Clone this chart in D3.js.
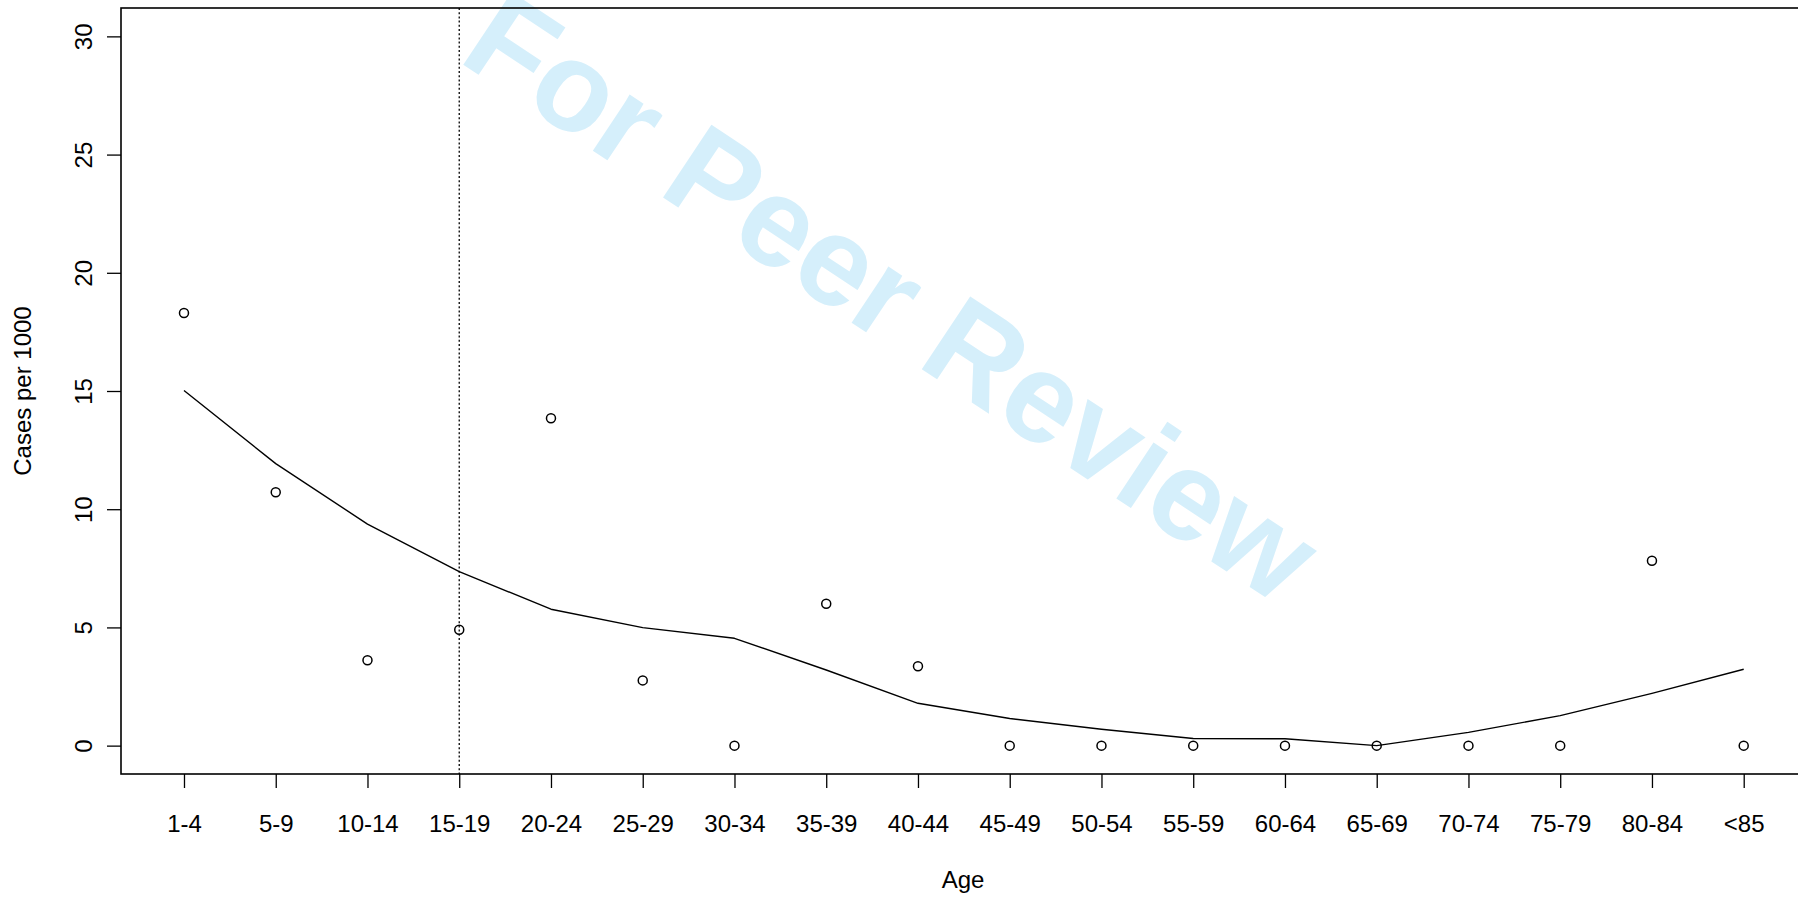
<!DOCTYPE html>
<html>
<head>
<meta charset="utf-8">
<script src="https://cdn.jsdelivr.net/npm/d3@7"></script>
<style>
  html, body { margin: 0; padding: 0; background: #fff; }
  svg { display: block; }
  text { font-family: "Liberation Sans", Arial, Helvetica, sans-serif; }
</style>
</head>
<body>
<svg id="chart" width="1798" height="898"></svg>
<script>
// ---- data ----
const ageGroups = ["1-4","5-9","10-14","15-19","20-24","25-29","30-34","35-39","40-44",
                   "45-49","50-54","55-59","60-64","65-69","70-74","75-79","80-84","<85"];
const observedRates = [18.3, 10.72, 3.61, 4.9, 13.85, 2.76, 0, 6.0, 3.36,
                       0, 0, 0, 0, 0, 0, 0, 7.82, 0];
const fittedRates = [15.02, 11.93, 9.37, 7.36, 5.77, 4.99, 4.54, 3.2, 1.79,
                     1.15, 0.69, 0.3, 0.29, 0, 0.56, 1.27, 2.21, 3.23];
const yTicks = [0, 5, 10, 15, 20, 25, 30];
const cutoffGroup = "15-19";
const yLabel = "Cases per 1000";
const xLabel = "Age";
const watermark = "For Peer Review";

// ---- layout ----
const svg = d3.select("#chart");
const plot = { left: 121.6, right: 1806.1, top: 8, bottom: 774 };

const n = ageGroups.length;
const pad = (n - 1) * 0.04;
const x = d3.scaleLinear().domain([1 - pad, n + pad]).range([plot.left, plot.right]);
const y = d3.scaleLinear().domain([-1.2, 31.2]).range([plot.bottom, plot.top]);
const xi = g => ageGroups.indexOf(g) + 1;

// watermark (behind)
svg.append("text")
  .attr("transform", "translate(456.3,59.9) rotate(33.6)")
  .attr("font-size", 127)
  .attr("font-weight", "bold")
  .attr("fill", "#d5effb")
  .text(watermark);

// x axis
const xAxis = d3.axisBottom(x)
  .tickValues(ageGroups.map((g, i) => i + 1))
  .tickFormat((d) => ageGroups[d - 1])
  .tickSize(14).tickPadding(0).tickSizeOuter(0);
const gx = svg.append("g").attr("transform", `translate(0,${plot.bottom})`).call(xAxis);
gx.select(".domain").remove();
gx.selectAll("line").attr("stroke", "#000").attr("stroke-width", 1.3);
gx.selectAll("text").attr("font-size", 24).attr("fill", "#000")
  .attr("y", 58).attr("dy", null);

// y axis
const yAxis = d3.axisLeft(y).tickValues(yTicks).tickSize(14).tickSizeOuter(0);
const gy = svg.append("g").attr("transform", `translate(${plot.left - 0.6},0)`).call(yAxis);
gy.select(".domain").remove();
gy.selectAll("line").attr("stroke", "#000").attr("stroke-width", 1.3);
gy.selectAll("text")
  .attr("font-size", 24).attr("fill", "#000")
  .attr("x", null).attr("dy", null)
  .attr("text-anchor", "middle")
  .attr("transform", "translate(-29.5,0) rotate(-90)");

// box
svg.append("rect")
  .attr("x", plot.left - 0.6).attr("y", plot.top)
  .attr("width", plot.right - plot.left + 0.6).attr("height", plot.bottom - plot.top)
  .attr("fill", "none").attr("stroke", "#000").attr("stroke-width", 1.6);

// cutoff dotted line
svg.append("line")
  .attr("x1", x(xi(cutoffGroup))).attr("x2", x(xi(cutoffGroup)))
  .attr("y1", plot.top).attr("y2", plot.bottom)
  .attr("stroke", "#000").attr("stroke-width", 1.3)
  .attr("stroke-dasharray", "2,2.2");

// fitted line
const line = d3.line().x((d, i) => x(i + 1)).y(d => y(d));
svg.append("path")
  .datum(fittedRates)
  .attr("d", line)
  .attr("fill", "none").attr("stroke", "#000").attr("stroke-width", 1.4)
  .attr("stroke-linejoin", "round");

// observed points
svg.append("g").selectAll("circle")
  .data(observedRates)
  .join("circle")
  .attr("cx", (d, i) => x(i + 1))
  .attr("cy", d => y(d))
  .attr("r", 4.5)
  .attr("fill", "none").attr("stroke", "#000").attr("stroke-width", 1.5);

// axis titles
svg.append("text")
  .attr("x", 963).attr("y", 888)
  .attr("text-anchor", "middle").attr("font-size", 24).attr("fill", "#000")
  .text(xLabel);

svg.append("text")
  .attr("transform", `translate(30.5,${(plot.top + plot.bottom) / 2}) rotate(-90)`)
  .attr("text-anchor", "middle").attr("font-size", 24).attr("fill", "#000")
  .text(yLabel);
</script>
</body>
</html>
